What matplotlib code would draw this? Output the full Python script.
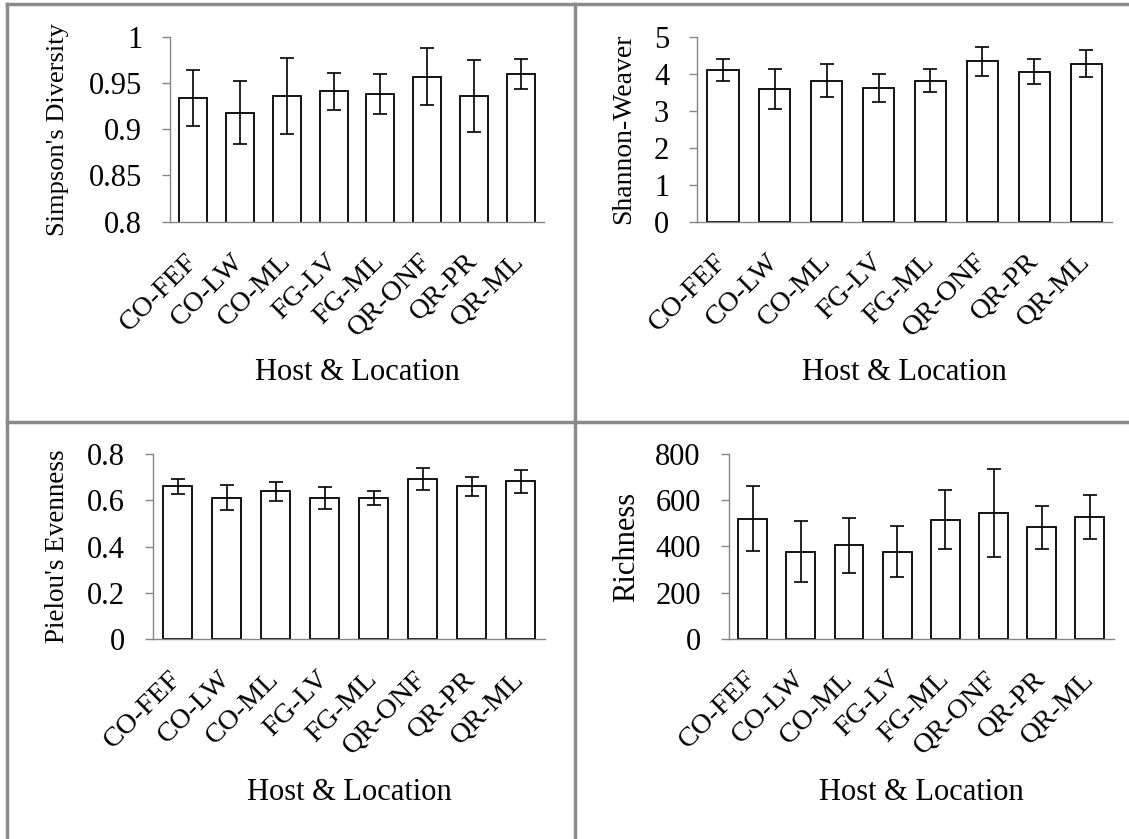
import matplotlib
matplotlib.use("Agg")
import matplotlib.pyplot as plt
from matplotlib.lines import Line2D
from matplotlib.ticker import FuncFormatter
import numpy as np

# Data ------------------------------------------------------------------------
categories = ["CO-FEF", "CO-LW", "CO-ML", "FG-LV", "FG-ML", "QR-ONF", "QR-PR", "QR-ML"]

simpson     = [0.934, 0.918, 0.936, 0.941, 0.938, 0.957, 0.936, 0.960]
simpson_err = [0.030, 0.034, 0.041, 0.020, 0.022, 0.031, 0.039, 0.016]

shannon     = [4.09, 3.57, 3.81, 3.61, 3.81, 4.33, 4.05, 4.27]
shannon_err = [0.30, 0.54, 0.45, 0.37, 0.32, 0.39, 0.33, 0.37]

pielou      = [0.660, 0.611, 0.639, 0.611, 0.611, 0.692, 0.660, 0.682]
pielou_err  = [0.033, 0.054, 0.041, 0.047, 0.031, 0.048, 0.040, 0.050]

richness     = [520, 378, 405, 378, 516, 544, 482, 526]
richness_err = [141, 130, 119, 108, 127, 190, 93, 96]

# Figure ----------------------------------------------------------------------
W, H = 1129, 839
plt.rcParams["font.family"] = ["Liberation Serif", "DejaVu Serif"]
fig = plt.figure(figsize=(W / 100, H / 100), dpi=100)

def fx(px):
	return px / W

def fy(py):
	return 1 - py / H

grey = "#868686"

# (values, errors, ylabel, ylabel size, ylim, ystep, box in pixels l, t, r, b, ylabel x, xlabel y)
panels = [
	(simpson,  simpson_err,  "Simpson's Diversity", 19, (0.8, 1.0), 0.05, (170, 36.8, 544, 221.7), 58, 372),
	(shannon,  shannon_err,  "Shannon-Weaver",      20, (0, 5),     1,    (697, 36.5, 1112, 221.7), 624, 372),
	(pielou,   pielou_err,   "Pielou's Evenness",   19.5, (0, 0.8), 0.2,  (153, 454, 545, 639.3), 58, 793),
	(richness, richness_err, "Richness",            22, (0, 800),   200,  (728.5, 453.6, 1114, 639.3), 627, 793),
]

x = np.arange(len(categories))

for vals, errs, ylabel, ysize, ylim, ystep, box, ylab_x, xlab_y in panels:
	l, t, r, b = box
	ax = fig.add_axes([fx(l), fy(b), fx(r) - fx(l), fy(t) - fy(b)])

	ax.bar(x, vals, width=0.6, color="white", edgecolor="black", linewidth=1.3, zorder=2)
	ax.errorbar(x, vals, yerr=errs, fmt="none", ecolor="black", elinewidth=1.2,
				capsize=5, capthick=1.2, zorder=3)

	ax.set_xlim(-0.5, len(categories) - 0.5)
	ax.set_ylim(*ylim)
	ax.set_yticks(np.arange(ylim[0], ylim[1] + ystep / 2, ystep))
	ax.yaxis.set_major_formatter(FuncFormatter(lambda v, p: "%g" % round(v, 4)))

	for side in ["top", "right"]:
		ax.spines[side].set_visible(False)
	for side in ["left", "bottom"]:
		ax.spines[side].set_color(grey)
		ax.spines[side].set_linewidth(1.0)

	ax.tick_params(axis="y", direction="out", length=6, width=1.0, color=grey,
				   labelsize=22, pad=14)
	ax.tick_params(axis="x", length=0, labelsize=20.5, pad=26)
	ax.set_xticks(x)
	ax.set_xticklabels(categories)
	plt.setp(ax.get_xticklabels(), rotation=45, ha="right", va="center",
			 rotation_mode="anchor")

	ax.set_ylabel(ylabel, fontsize=ysize, va="center")
	ax.yaxis.set_label_coords(fx(ylab_x), fy((t + b) / 2), transform=fig.transFigure)
	ax.set_xlabel("Host & Location", fontsize=22, va="center")
	ax.xaxis.set_label_coords(fx((l + r) / 2), fy(xlab_y), transform=fig.transFigure)

# Panel borders ---------------------------------------------------------------
border = dict(color="#8a8a8a", linewidth=2.5, transform=fig.transFigure)
fig.add_artist(Line2D([fx(7), fx(W)], [fy(4), fy(4)], **border))
fig.add_artist(Line2D([fx(7), fx(7)], [fy(4), fy(H)], **border))
fig.add_artist(Line2D([fx(575), fx(575)], [fy(4), fy(H)], **border))
fig.add_artist(Line2D([fx(7), fx(W)], [fy(422), fy(422)], **border))

fig.savefig("out.png", dpi=100, facecolor="white")
